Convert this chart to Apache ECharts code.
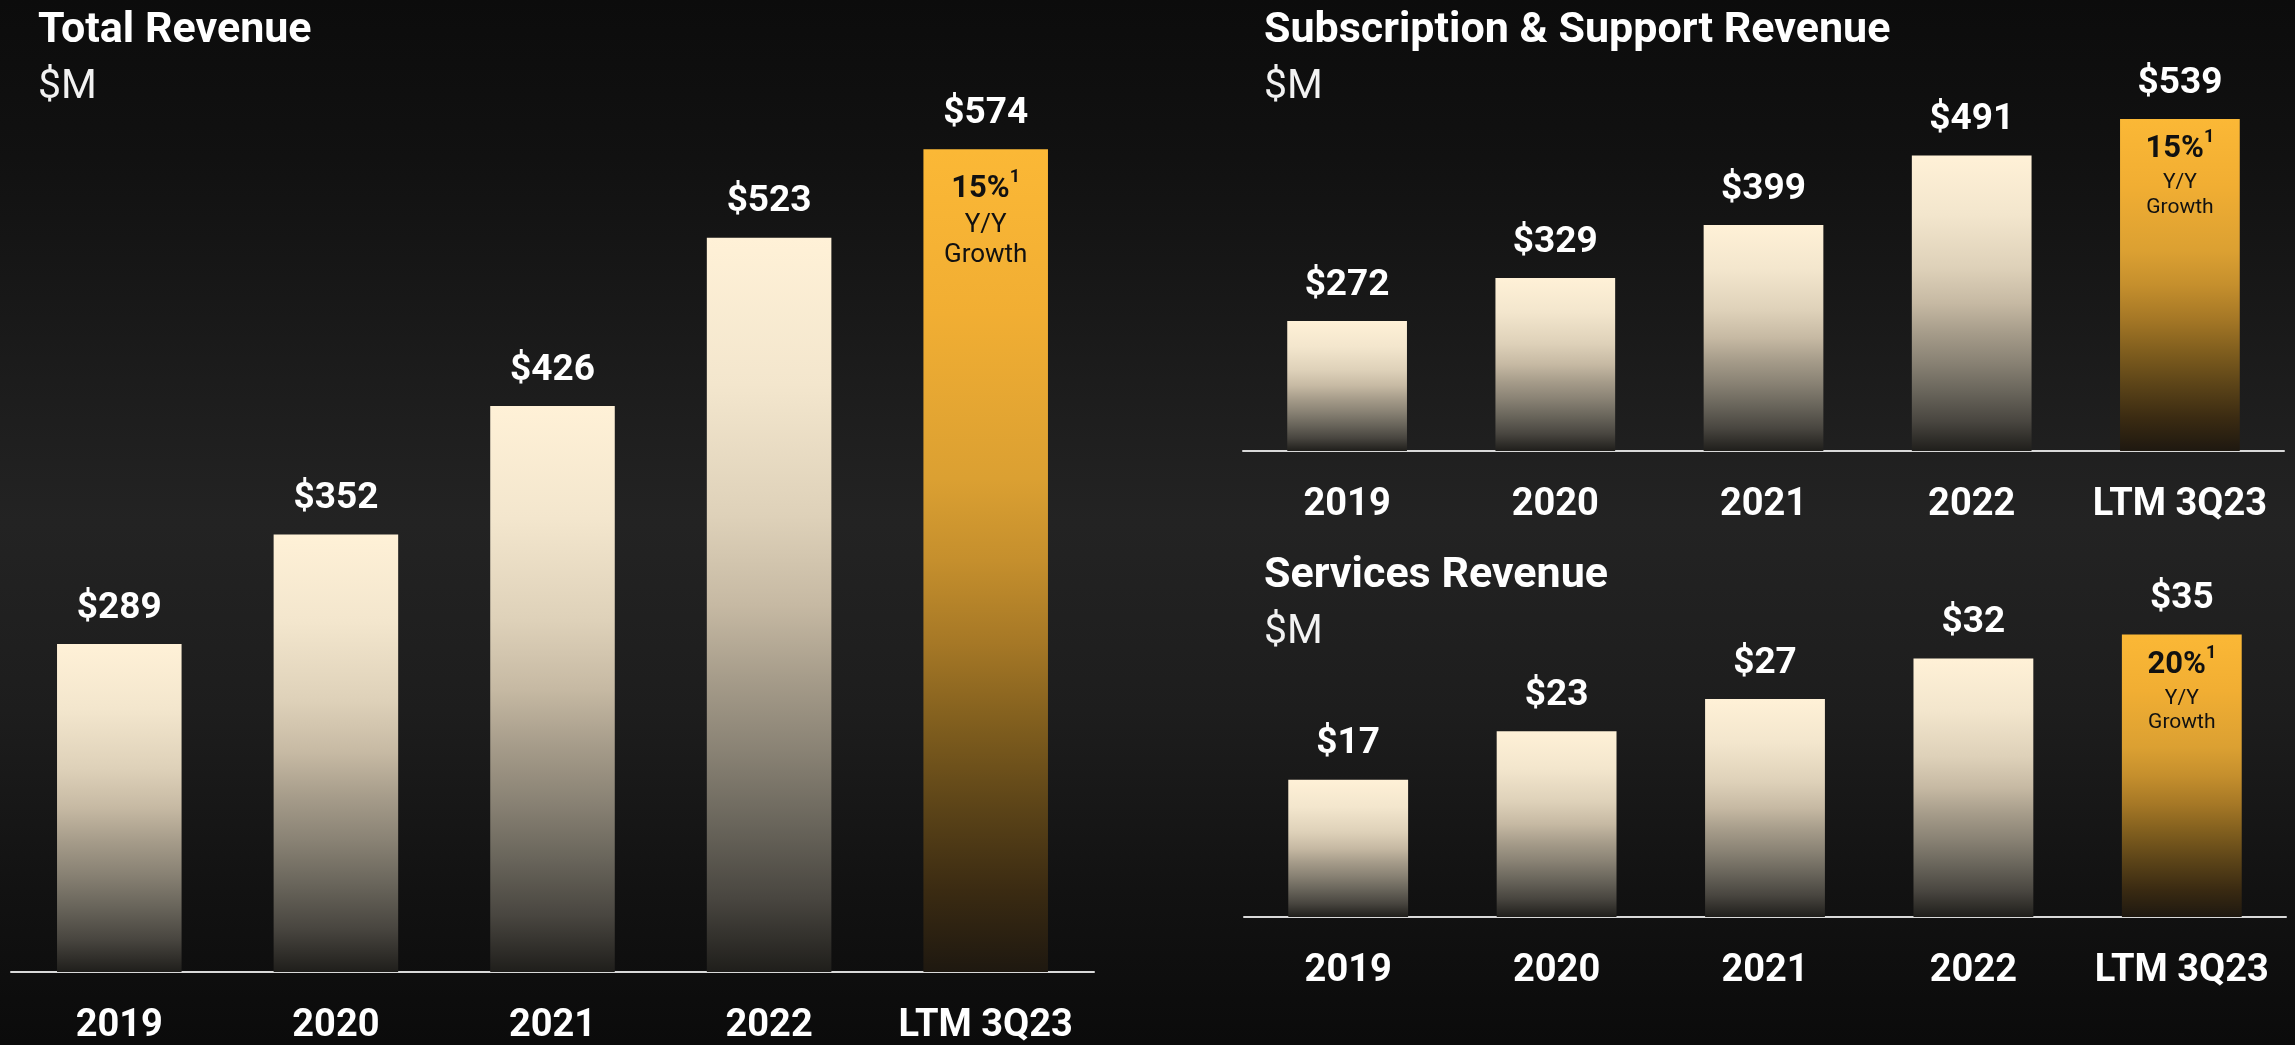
<!DOCTYPE html>
<html>
<head>
<meta charset="utf-8">
<title>Revenue</title>
<script src="https://cdn.jsdelivr.net/npm/echarts@6/dist/echarts.min.js"></script>
<style>
  html, body { margin: 0; padding: 0; background: #111; }
  #chart { width: 2295px; height: 1045px; }
</style>
</head>
<body>
<div id="chart"></div>
<script>
// data
const categories = ['2019', '2020', '2021', '2022', 'LTM 3Q23'];
const totalRevenue = [289, 352, 426, 523, 574];
const subscriptionRevenue = [272, 329, 399, 491, 539];
const servicesRevenue = [17, 23, 27, 32, 35];
const growthPct = ['15%', '15%', '20%'];

// cream bars fade to almost black at the baseline
const creamStops = [
  [0, '#FFF1D7'], [0.2, '#F3E6CD'], [0.38, '#DED1B9'], [0.5, '#C6B9A3'],
  [0.6, '#A69C8A'], [0.7, '#898274'], [0.8, '#69655B'], [0.9, '#494640'], [1, '#1F1E1B']
];
const goldStops = [
  [0, '#FBB836'], [0.2, '#F1AE33'], [0.4, '#DBA032'], [0.5, '#C58F2D'],
  [0.6, '#A67826'], [0.7, '#805E1E'], [0.8, '#5C4418'], [0.9, '#3B2B12'], [1, '#1E1810']
];

function grad(stops) {
  return {
    type: 'linear', x: 0, y: 0, x2: 0, y2: 1,
    colorStops: stops.map(s => ({ offset: s[0], color: s[1] }))
  };
}

const FONT = 'Roboto';
const chart = echarts.init(document.getElementById('chart'));

const panels = [
  { title: 'Total Revenue', values: totalRevenue, min: 100, max: 600,
    grid: { left: 11, right: 1201, top: 104, bottom: 70 }, titleLeft: 33, titleTop: 5,
    inner: { small: 26, smallLH: 30, dist: 19 } },
  { title: 'Subscription & Support Revenue', values: subscriptionRevenue, min: 100, max: 600,
    grid: { left: 1243, right: 11, top: 73, bottom: 594 }, titleLeft: 1259, titleTop: 5,
    inner: { small: 21, smallLH: 25, dist: 9 } },
  { title: 'Services Revenue', values: servicesRevenue, min: 0, max: 40,
    grid: { left: 1244, right: 9, top: 594, bottom: 128 }, titleLeft: 1259, titleTop: 550,
    inner: { small: 21, smallLH: 24, dist: 10 } }
];

const titles = [], grids = [], xAxes = [], yAxes = [], series = [];

panels.forEach((p, i) => {
  const last = p.values.length - 1;
  titles.push({
    text: p.title,
    subtext: '$M',
    left: p.titleLeft,
    top: p.titleTop,
    itemGap: 14,
    textStyle: { color: '#fff', fontFamily: FONT, fontWeight: 'bold', fontSize: 43 },
    subtextStyle: { color: '#f2f2f2', fontFamily: FONT, fontWeight: 'normal', fontSize: 41 }
  });
  grids.push(p.grid);
  xAxes.push({
    gridIndex: i,
    type: 'category',
    data: categories,
    axisLine: { show: true, lineStyle: { color: '#d9d9d9', width: 2 } },
    axisTick: { show: false },
    axisLabel: { interval: 0, color: '#fff', fontFamily: FONT, fontWeight: 'bold', fontSize: 38, margin: 35 }
  });
  yAxes.push({ gridIndex: i, type: 'value', min: p.min, max: p.max, show: false });

  series.push({
    type: 'bar',
    xAxisIndex: i,
    yAxisIndex: i,
    barWidth: '57.5%',
    barGap: '-100%',
    data: p.values.map((v, k) => ({
      value: v,
      itemStyle: { color: grad(k === last ? goldStops : creamStops) }
    })),
    label: {
      show: true,
      position: 'top',
      distance: 17,
      formatter: d => '$' + d.value,
      color: '#fff',
      fontFamily: FONT,
      fontWeight: 'bold',
      fontSize: 37
    }
  });
  // transparent overlay on the last bar, only to carry the growth text
  series.push({
    type: 'bar',
    xAxisIndex: i,
    yAxisIndex: i,
    barWidth: '57.5%',
    barGap: '-100%',
    silent: true,
    z: 3,
    itemStyle: { color: 'rgba(0,0,0,0)' },
    data: p.values.map((v, k) => (k === last ? v : '-')),
    label: {
      show: true,
      position: 'insideTop',
      distance: p.inner.dist,
      formatter: '{b|' + growthPct[i] + '}{s|1}\n{n|Y/Y}\n{n|Growth}',
      rich: {
        b: { fontFamily: FONT, fontWeight: 'bold', fontSize: 31, lineHeight: 42, color: '#111' },
        s: { fontFamily: FONT, fontWeight: 'bold', fontSize: 18, lineHeight: 30, verticalAlign: 'top', color: '#111' },
        n: { fontFamily: FONT, fontSize: p.inner.small, lineHeight: p.inner.smallLH, color: '#111' }
      }
    }
  });
});

chart.setOption({
  backgroundColor: {
    type: 'linear', x: 0, y: 0, x2: 0, y2: 1,
    colorStops: [
      { offset: 0, color: '#0c0c0c' },
      { offset: 0.15, color: '#111111' },
      { offset: 0.5, color: '#232323' },
      { offset: 0.68, color: '#1d1d1d' },
      { offset: 0.85, color: '#121212' },
      { offset: 1, color: '#0b0b0b' }
    ]
  },
  animation: false,
  title: titles,
  grid: grids,
  xAxis: xAxes,
  yAxis: yAxes,
  series: series
});
</script>
</body>
</html>
